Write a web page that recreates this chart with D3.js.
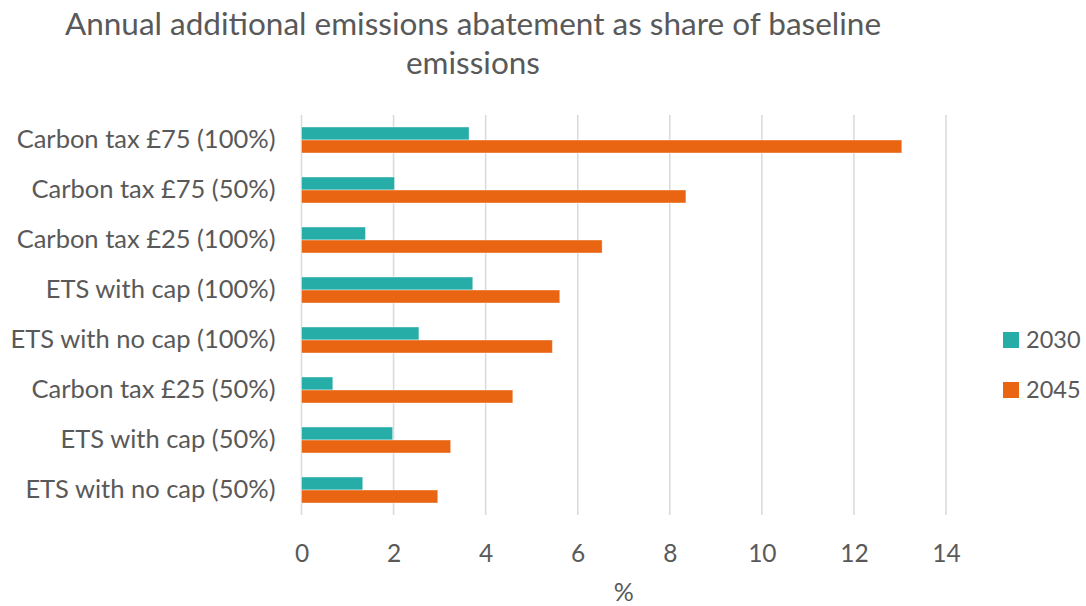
<!DOCTYPE html>
<html>
<head>
<meta charset="utf-8">
<script src="https://cdn.jsdelivr.net/npm/d3@7"></script>
<style>
  html, body { margin: 0; padding: 0; background: #ffffff; }
  svg { display: block; font-family: Lato, "Open Sans", sans-serif; }
</style>
</head>
<body>
<svg id="chart" width="1086" height="606"></svg>
<script>
// Scenario labels, top to bottom
const categories = [
  "Carbon tax £75 (100%)",
  "Carbon tax £75 (50%)",
  "Carbon tax £25 (100%)",
  "ETS with cap (100%)",
  "ETS with no cap (100%)",
  "Carbon tax £25 (50%)",
  "ETS with cap (50%)",
  "ETS with no cap (50%)"
];
// Abatement as % of baseline emissions
const values2030 = [3.64, 2.02, 1.39, 3.72, 2.55, 0.68, 1.98, 1.33];
const values2045 = [13.04, 8.35, 6.53, 5.61, 5.45, 4.59, 3.24, 2.96];
const seriesNames = ["2030", "2045"];
const xTicks = [0, 2, 4, 6, 8, 10, 12, 14];

const colors = { "2030": "#27ada7", "2045": "#e96511" };
const textColor = "#595959";
const fontStack = "Lato, 'Open Sans', sans-serif";

const svg = d3.select("#chart");
const plot = { left: 301.5, right: 946, top: 115, bottom: 515 };

const x = d3.scaleLinear().domain([0, 14]).range([plot.left, plot.right]);
const y = d3.scaleBand().domain(categories).range([plot.top, plot.bottom]).paddingInner(0.48).paddingOuter(0.24);
const ySub = d3.scaleBand().domain(seriesNames).range([0, y.bandwidth()]);

// Title
const title = svg.append("text")
  .attr("text-anchor", "middle")
  .attr("fill", textColor)
  .style("font-size", "31.5px");
title.append("tspan").attr("x", 473).attr("y", 35).text("Annual additional emissions abatement as share of baseline");
title.append("tspan").attr("x", 473).attr("y", 74).text("emissions");

// Vertical gridlines
svg.append("g")
  .selectAll("line")
  .data(xTicks)
  .join("line")
  .attr("x1", d => x(d)).attr("x2", d => x(d))
  .attr("y1", plot.top).attr("y2", plot.bottom)
  .attr("stroke", "#d9d9d9")
  .attr("stroke-width", 1.5);

// X axis tick labels
const xAxis = d3.axisBottom(x).tickValues(xTicks).tickSize(0).tickPadding(0);
const gx = svg.append("g").attr("transform", `translate(0,${plot.bottom})`).call(xAxis);
gx.select(".domain").remove();
gx.selectAll("text")
  .attr("y", 47)
  .attr("dy", 0)
  .attr("fill", textColor)
  .style("font-size", "24.5px")
  .style("font-family", fontStack);

// X axis title
svg.append("text")
  .attr("x", (plot.left + plot.right) / 2)
  .attr("y", 601)
  .attr("text-anchor", "middle")
  .attr("fill", textColor)
  .style("font-size", "25px")
  .text("%");

// Category labels
const yAxis = d3.axisLeft(y).tickSize(0).tickPadding(26);
const gy = svg.append("g").attr("transform", `translate(${plot.left},0)`).call(yAxis);
gy.select(".domain").remove();
gy.selectAll("text")
  .attr("fill", textColor)
  .style("font-size", "25.5px")
  .style("font-family", fontStack);

// Bars
const rows = categories.map((c, i) => ({ cat: c, vals: [
  { key: "2030", v: values2030[i] },
  { key: "2045", v: values2045[i] }
]}));

const groups = svg.append("g")
  .selectAll("g")
  .data(rows)
  .join("g")
  .attr("transform", d => `translate(0,${y(d.cat)})`);

groups.selectAll("rect")
  .data(d => d.vals)
  .join("rect")
  .attr("x", x(0))
  .attr("y", d => ySub(d.key))
  .attr("width", d => x(d.v) - x(0))
  .attr("height", ySub.bandwidth())
  .attr("fill", d => colors[d.key])
  .attr("stroke", "#ffffff")
  .attr("stroke-opacity", 0.4)
  .attr("stroke-width", 1);

// Legend
const legend = svg.append("g")
  .selectAll("g")
  .data(seriesNames)
  .join("g")
  .attr("transform", (d, i) => `translate(1003,${332 + i * 50})`);
legend.append("rect")
  .attr("width", 16).attr("height", 16)
  .attr("fill", d => colors[d]);
legend.append("text")
  .attr("x", 23).attr("y", 16)
  .attr("fill", textColor)
  .style("font-size", "23.5px")
  .text(d => d);
</script>
</body>
</html>
